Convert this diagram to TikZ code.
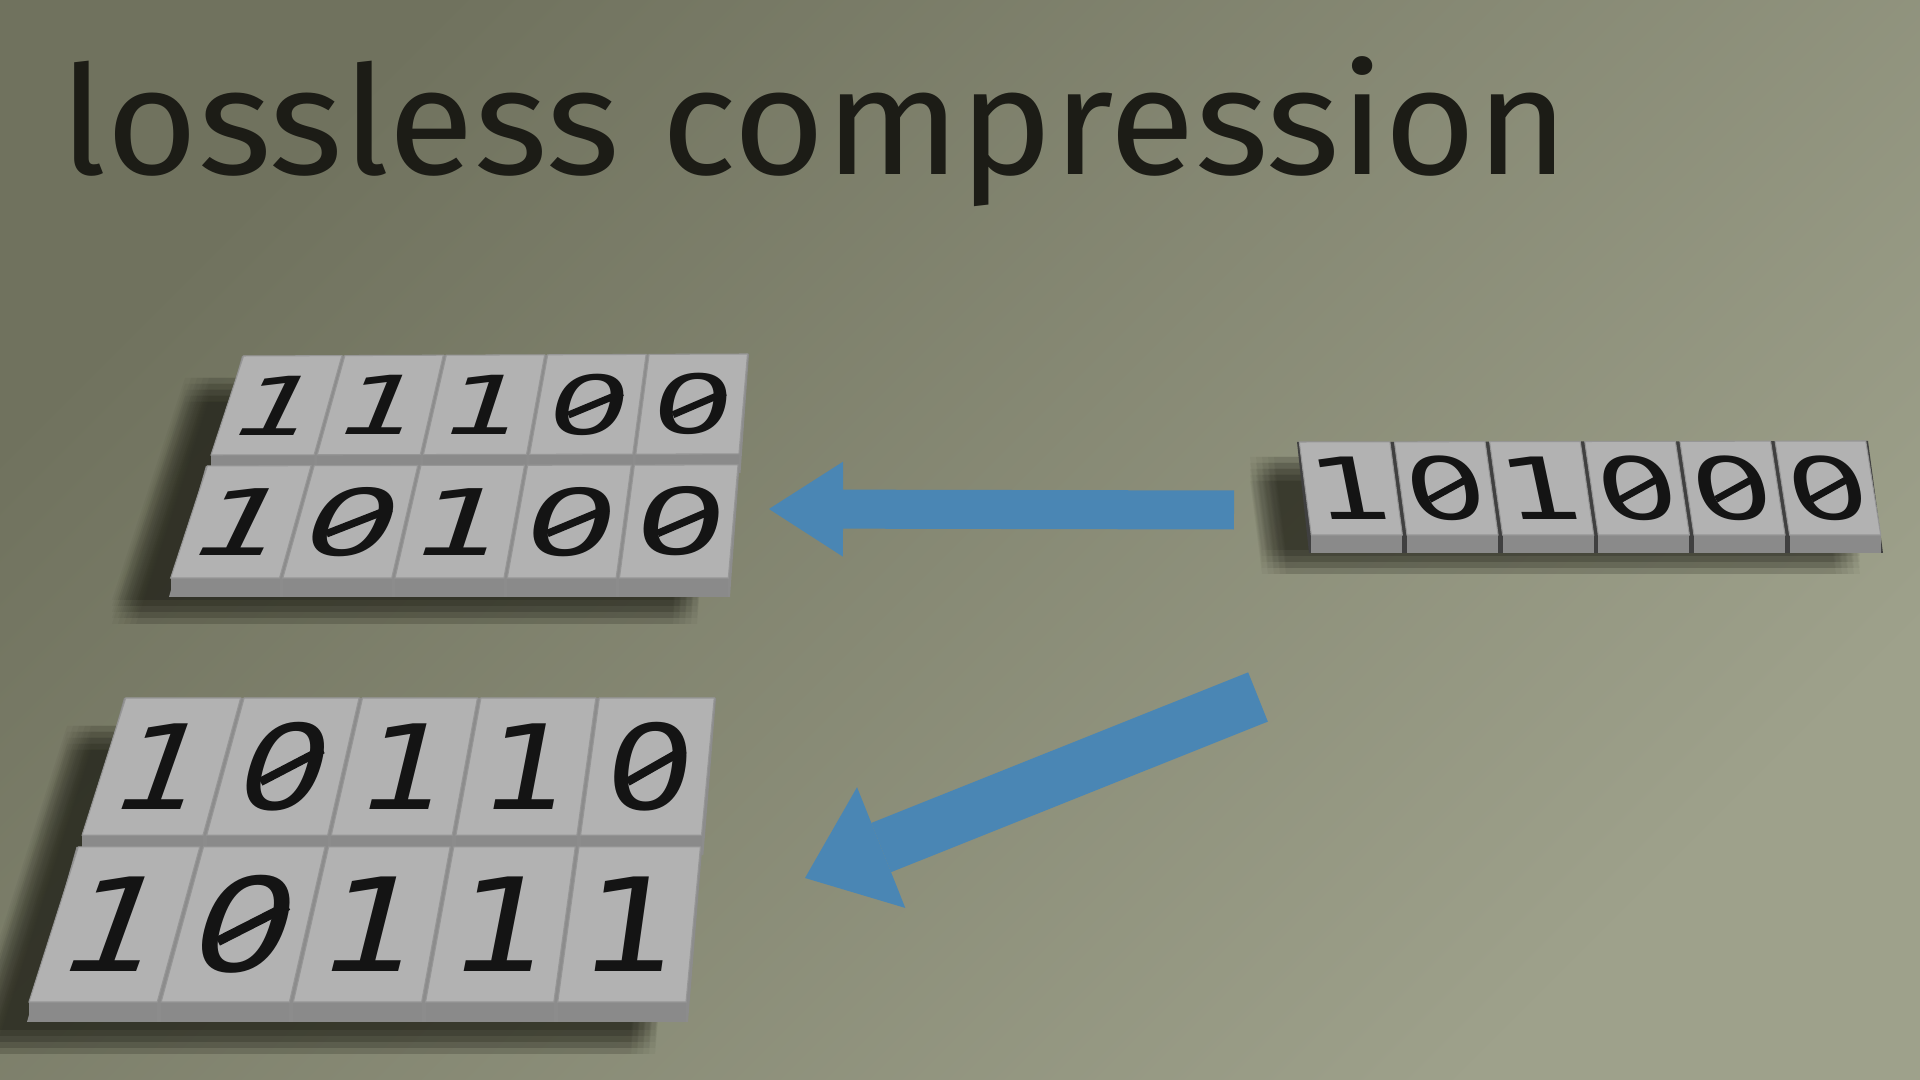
\documentclass[tikz,border=0pt]{standalone}
\usepackage{fontspec}
\newfontfamily\titlefont{Fira Sans}
\newfontfamily\bitfont{DejaVu Sans}
\usetikzlibrary{calc,arrows.meta,positioning}

\definecolor{bgdark}{RGB}{112,114,94}
\definecolor{bglight}{RGB}{158,161,139}
\definecolor{topgray}{RGB}{178,178,178}
\definecolor{sidegray}{RGB}{138,138,138}
\definecolor{edgegray}{RGB}{150,150,150}
\definecolor{arrowblue}{RGB}{74,134,180}
\definecolor{shadowcol}{RGB}{28,28,20}
\definecolor{titlecol}{RGB}{28,28,22}
\definecolor{digitcol}{RGB}{20,20,20}

\tikzstyle{titletext}=[font=\titlefont\fontsize{43pt}{43pt}\selectfont, text=titlecol, inner sep=0pt, xscale=1.04]
\tikzstyle{bitdigit}=[inner sep=0pt, text=digitcol, anchor=center]
\tikzstyle{bitA1}=[bitdigit, font=\bitfont\fontsize{36.7pt}{36.7pt}\selectfont, yscale=0.63]
\tikzstyle{bitA2}=[bitdigit, font=\bitfont\fontsize{41.4pt}{41.4pt}\selectfont, yscale=0.63]
\tikzstyle{bitB1}=[bitdigit, font=\bitfont\fontsize{39.8pt}{39.8pt}\selectfont, yscale=0.84]
\tikzstyle{bitB2}=[bitdigit, font=\bitfont\fontsize{45pt}{45pt}\selectfont, yscale=0.82]
\tikzstyle{bitC}=[bitdigit, font=\bitfont\fontsize{36.4pt}{36.4pt}\selectfont, yscale=0.67]
\tikzstyle{blueflow}=[draw=arrowblue, line cap=butt]

% one tile: block, name, u0, u1, v0, v1, digit, digit style
\newcommand{\bittile}[8]{%
  \coordinate (q1) at ($($(#1TL)!#3!(#1TR)$)!#5!($(#1BL)!#3!(#1BR)$)$);
  \coordinate (q2) at ($($(#1TL)!#4!(#1TR)$)!#5!($(#1BL)!#4!(#1BR)$)$);
  \coordinate (q3) at ($($(#1TL)!#4!(#1TR)$)!#6!($(#1BL)!#4!(#1BR)$)$);
  \coordinate (q4) at ($($(#1TL)!#3!(#1TR)$)!#6!($(#1BL)!#3!(#1BR)$)$);
  \fill[sidegray] (q4) -- (q3) -- ($(q3)+(0,\thick)$) -- ($(q4)+(0,\thick)$) -- cycle;
  \filldraw[fill=topgray, draw=edgegray, line width=0.3pt] (q1) -- (q2) -- (q3) -- (q4) -- cycle;
  \path let \p1=($(q1)!0.5!(q2)$), \p2=($(q4)!0.5!(q3)$) in
    node[#8, xslant={(\x1-\x2)/(\y1-\y2)}] (#2) at ($(q1)!0.5!(q3)$) {#7};
  % slashed zero
  \ifnum#7=0
    \draw[digitcol, line width=\slw]
      ($(#2.south west)!0.27!(#2.south east) + 0.33*(#2.north west) - 0.33*(#2.south west)$) --
      ($(#2.south west)!0.85!(#2.south east) + 0.69*(#2.north west) - 0.69*(#2.south west)$);
  \fi
}
% one row of tiles: block, row, v0, v1, digits, digit style
\newcommand{\bitrow}[6]{%
  \fill[gapgray] ($(#1TL)!#3!(#1BL)$) -- ($(#1TR)!#3!(#1BR)$)
    -- ($($(#1TR)!#4!(#1BR)$)+(0,\thick)$) -- ($($(#1TL)!#4!(#1BL)$)+(0,\thick)$) -- cycle;
  \foreach \d [count=\c] in {#5} {
    \pgfmathsetmacro{\ua}{(\c-1)/\ncols+\gapu}
    \pgfmathsetmacro{\ub}{\c/\ncols-\gapu}
    \bittile{#1}{#1#2-\c}{\ua}{\ub}{#3}{#4}{\d}{#6}
  }
}
% soft shadow of a block: block, dx, dy
\newcommand{\blockshadow}[3]{%
  \foreach \sx in {-12,-6,...,12} {
    \foreach \sy in {-12,-6,...,12} {
      \fill[shadowcol, opacity=0.045]
        ($(#1TL)+(#2+\sx,#3+\sy)$) -- ($(#1TR)+(#2+\sx,#3+\sy)$)
        -- ($(#1BR)+(#2+\sx,#3+\sy)$) -- ($(#1BL)+(#2+\sx,#3+\sy)$) -- cycle;
    }
  }
}

\begin{document}
\begin{tikzpicture}[x=0.01cm, y=-0.01cm]
    % background
    \useasboundingbox (0,0) rectangle (1920,1080);
    \shade[shading=axis, top color=bgdark, bottom color=bglight, shading angle=45] (0,0) rectangle (1920,1080);

    % corners of the blocks (top faces)
    \coordinate (ATL) at (242,356);
    \coordinate (ATR) at (749,354);
    \coordinate (ABL) at (169,578);
    \coordinate (ABR) at (730,578);
    \coordinate (BTL) at (124,698);
    \coordinate (BTR) at (716,698);
    \coordinate (BBL) at (27,1002);
    \coordinate (BBR) at (688,1002);
    \coordinate (CTL) at (1297,442);
    \coordinate (CTR) at (1868,441);
    \coordinate (CBL) at (1309,535);
    \coordinate (CBR) at (1883,535);

    % shadows
    \blockshadow{A}{-45}{34}
    \blockshadow{B}{-45}{40}
    \blockshadow{C}{-35}{27}

    % arrows
    \coordinate (fromA) at (1234,510);
    \coordinate (toA) at (769,509);
    \coordinate (fromB) at (1258,697);
    \coordinate (toB) at (805,878);
    \draw[blueflow, line width=3.9mm, -{Triangle[length=7.4mm, width=9.5mm, line width=0pt]}] (fromA) -- (toA);
    \draw[blueflow, line width=5.3mm, -{Triangle[length=8.2mm, width=13mm, line width=0pt]}] (fromB) -- (toB);

    % tiles
    \def\ncols{5}\def\thick{19}\def\gapu{0.003}\colorlet{gapgray}{black!45}
    \def\slw{0.7mm}
    \bitrow{A}{1}{0}{0.446}{1,1,1,0,0}{bitA1}
    \def\slw{0.75mm}
    \bitrow{A}{2}{0.495}{1}{1,0,1,0,0}{bitA2}
    \def\thick{20}\def\slw{0.85mm}
    \bitrow{B}{1}{0}{0.451}{1,0,1,1,0}{bitB1}
    \def\slw{0.95mm}
    \bitrow{B}{2}{0.49}{1}{1,0,1,1,1}{bitB2}
    \def\ncols{6}\def\thick{18}\def\gapu{0.004}\colorlet{gapgray}{black!75}
    \def\slw{0.7mm}
    \bitrow{C}{1}{0}{1}{1,0,1,0,0,0}{bitC}

    % title
    \node[titletext, anchor=base west] (title) at (60,175) {lossless compression};
\end{tikzpicture}
\end{document}
